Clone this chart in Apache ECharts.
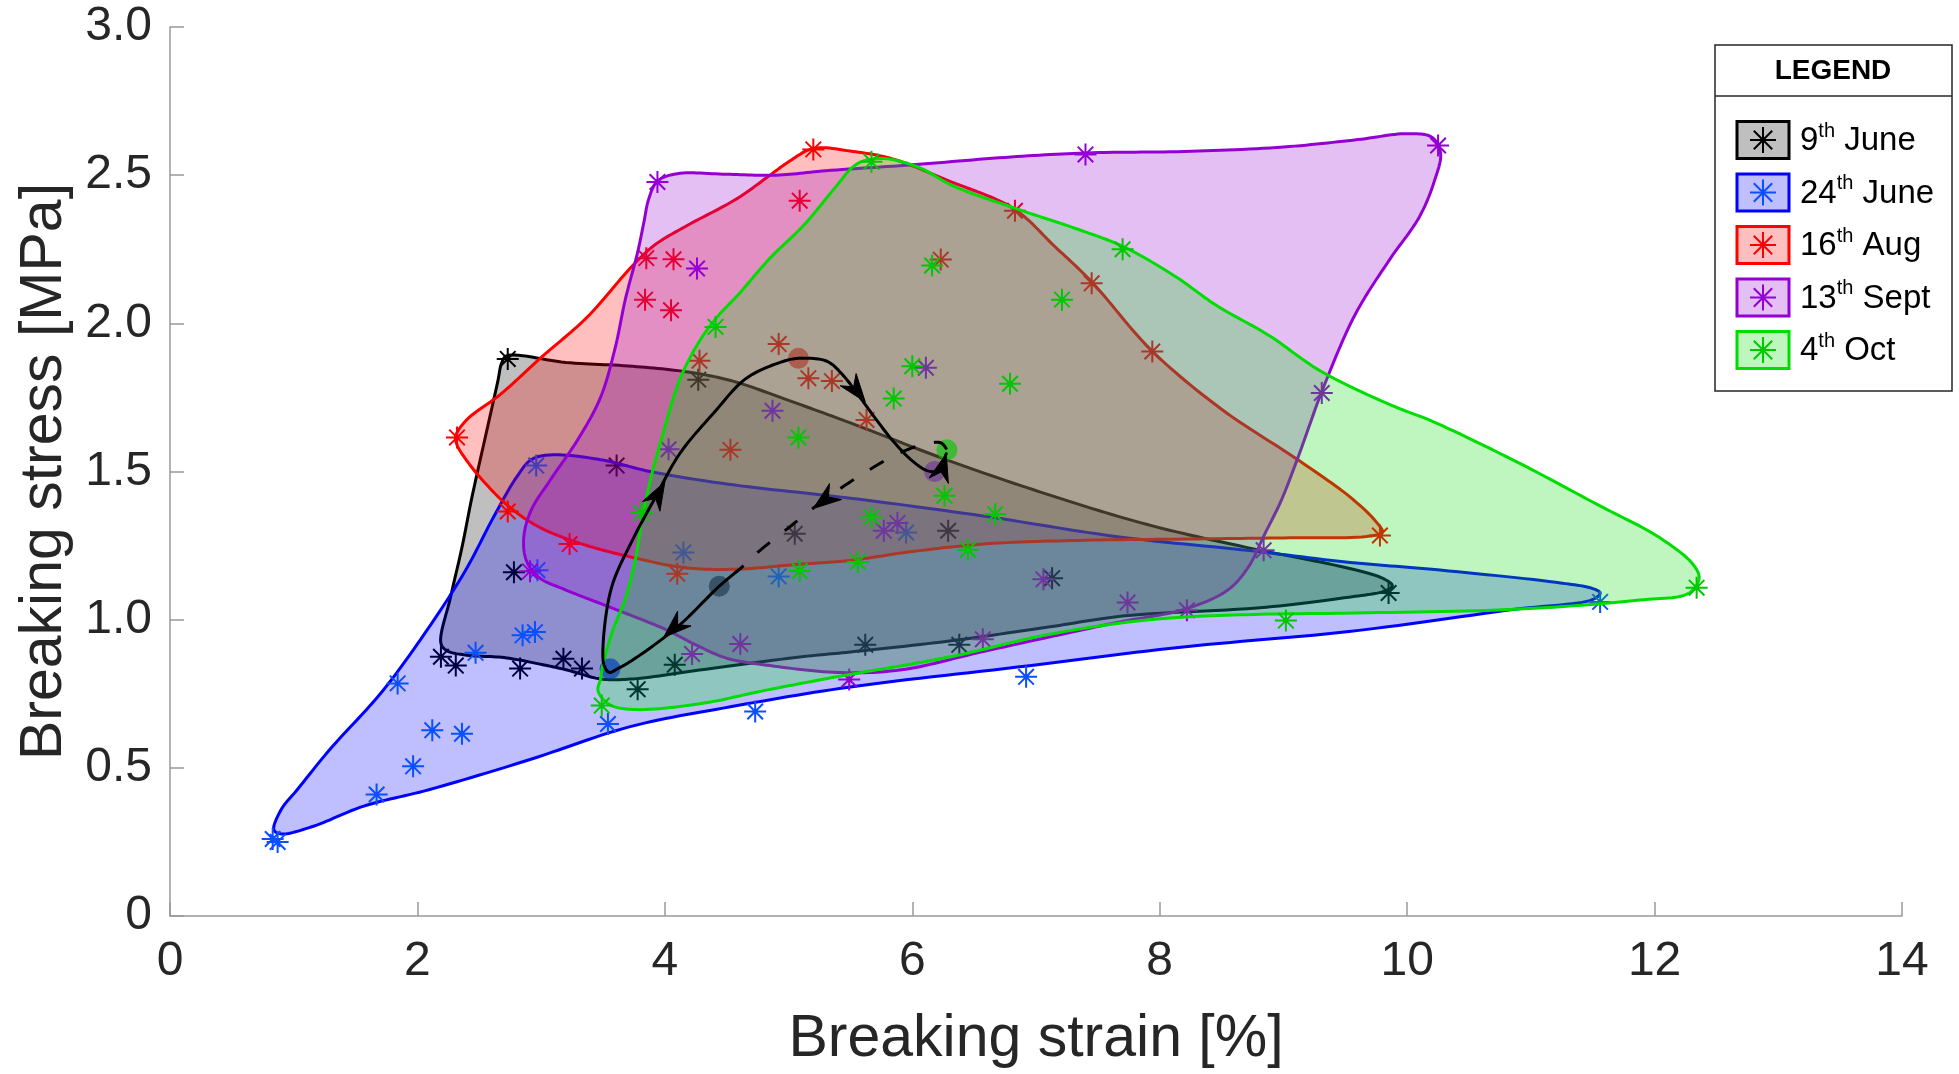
<!DOCTYPE html>
<html>
<head>
<meta charset="utf-8">
<script src="https://cdn.jsdelivr.net/npm/echarts@6/dist/echarts.min.js"></script>
<style>
  html, body { margin: 0; padding: 0; background: #ffffff; }
  #chart { width: 1959px; height: 1074px; }
</style>
</head>
<body>
<div id="chart"></div>
<script>
// Sampling dates (legend labels: day number + superscript "th" + month)
const dayNumbers = ['9', '24', '16', '13', '4'];
const monthNames = ['June', 'June', 'Aug', 'Sept', 'Oct'];

const lineColors   = ['#000000', '#0000ff', '#ff0000', '#9400d3', '#00dd00'];
const markerColors = ['#000000', '#0a50ff', '#ff0000', '#9400d3', '#00c800'];
const fillColors   = ['rgba(0,0,0,0.25)', 'rgba(0,0,255,0.25)', 'rgba(255,0,0,0.25)',
                      'rgba(148,0,211,0.25)', 'rgba(0,221,0,0.25)'];
const meanColors   = ['rgba(0,0,0,0.8)', 'rgba(0,0,255,0.8)', 'rgba(255,0,0,0.8)',
                      'rgba(148,0,211,0.8)', 'rgba(0,200,0,0.8)'];

// Individual samples: [breaking strain %, breaking stress MPa]
const june9Points = [[2.73,1.88],[4.27,1.81],[3.61,1.52],[2.78,1.16],[2.19,0.875],[2.31,0.845],
  [2.83,0.835],[3.18,0.868],[3.33,0.835],[3.78,0.765],[4.08,0.848],[5.05,1.29],[6.29,1.30],
  [7.13,1.14],[5.62,0.915],[6.38,0.915],[9.85,1.09]];
const june24Points = [[0.83,0.26],[0.87,0.25],[1.67,0.41],[1.965,0.505],[1.84,0.785],[2.12,0.627],
  [2.36,0.615],[2.47,0.888],[2.85,0.947],[2.95,0.958],[2.97,1.167],[2.96,1.52],[3.54,0.648],
  [4.15,1.227],[4.73,0.69],[4.92,1.146],[5.95,1.294],[6.92,0.807],[11.56,1.06]];
const aug16Points = [[2.32,1.615],[2.73,1.365],[3.23,1.255],[3.85,2.22],[4.07,2.216],[3.84,2.08],
  [4.05,2.044],[4.28,1.874],[4.53,1.573],[4.10,1.155],[5.2,2.587],[5.09,2.414],[4.92,1.93],
  [5.16,1.815],[5.35,1.805],[5.63,1.674],[6.23,2.215],[6.83,2.38],[7.45,2.135],[7.94,1.905],[9.78,1.284]];
const sept13Points = [[3.94,2.477],[7.40,2.57],[10.25,2.60],[4.26,2.185],[6.11,1.85],[9.31,1.765],
  [4.87,1.705],[4.03,1.575],[5.77,1.30],[5.88,1.326],[2.91,1.163],[7.06,1.136],[8.84,1.234],
  [7.74,1.058],[8.22,1.032],[6.57,0.934],[4.61,0.918],[4.22,0.884],[5.49,0.798]];
const oct4Points = [[5.67,2.545],[7.70,2.25],[7.21,2.08],[6.79,1.796],[6.16,2.195],[6.0,1.855],
  [5.85,1.746],[4.41,1.988],[5.08,1.615],[3.81,1.36],[3.49,0.71],[6.26,1.418],[5.67,1.346],
  [6.67,1.356],[5.56,1.195],[5.09,1.164],[6.45,1.236],[9.02,0.997],[12.34,1.108]];

// Mean of each sampling date
const meanPoints = [[4.44,1.113],[3.557,0.834],[5.08,1.882],[6.18,1.50],[6.28,1.573]];

// Envelope vertices of each date (closed, smoothed when drawn)
const june9Outline = [[2.72,1.89],[3.2,1.868],[3.74,1.855],[4.2,1.835],[4.55,1.805],[5.0,1.74],
  [5.5,1.664],[6.3,1.536],[7.1,1.422],[7.9,1.321],[8.7,1.244],[9.5,1.176],[9.8,1.14],[9.88,1.115],
  [9.82,1.097],[9.53,1.076],[8.86,1.042],[7.7,1.012],[7.1,0.975],[6.3,0.928],[5.5,0.891],[5.09,0.874],
  [4.28,0.83],[3.74,0.80],[3.48,0.80],[3.21,0.83],[2.99,0.85],[2.7,0.872],[2.4,0.88],[2.24,0.895],
  [2.19,0.92],[2.27,1.08],[2.36,1.244],[2.44,1.412],[2.56,1.637],[2.65,1.805],[2.68,1.865]];
const june24Outline = [[0.84,0.29],[0.9,0.36],[1.03,0.427],[1.29,0.561],[1.70,0.75],[2.0,0.918],
  [2.38,1.16],[2.62,1.35],[2.80,1.48],[2.92,1.54],[3.07,1.556],[3.48,1.54],[3.88,1.50],[4.55,1.455],
  [5.50,1.41],[6.57,1.35],[7.66,1.28],[8.73,1.233],[9.54,1.193],[10.2,1.17],[11.2,1.126],[11.5,1.105],
  [11.56,1.09],[11.5,1.068],[10.87,1.035],[9.53,0.96],[8.19,0.908],[6.85,0.84],[5.50,0.773],
  [4.53,0.706],[3.72,0.639],[2.91,0.528],[2.10,0.427],[1.56,0.37],[1.16,0.303],[0.9,0.277]];
const aug16Outline = [[2.31,1.62],[2.40,1.675],[2.67,1.76],[3.0,1.885],[3.37,2.02],[3.74,2.195],
  [3.92,2.265],[4.18,2.33],[4.58,2.42],[4.85,2.50],[5.0,2.545],[5.2,2.59],[5.52,2.58],[5.84,2.555],
  [6.3,2.48],[6.82,2.387],[7.15,2.26],[7.45,2.14],[7.93,1.91],[8.5,1.71],[9.13,1.536],[9.55,1.41],
  [9.75,1.33],[9.8,1.295],[9.7,1.282],[9.0,1.276],[8.2,1.272],[7.4,1.268],[6.6,1.256],[6.0,1.23],
  [5.5,1.20],[5.09,1.187],[4.55,1.17],[4.15,1.176],[3.74,1.21],[3.34,1.254],[2.99,1.311],[2.75,1.378],
  [2.56,1.455],[2.40,1.536],[2.32,1.59]];
const sept13Outline = [[3.94,2.48],[4.1,2.505],[4.5,2.503],[4.9,2.50],[5.3,2.515],[6.0,2.535],
  [6.75,2.56],[7.4,2.575],[8.2,2.58],[9.0,2.595],[9.6,2.62],[10.0,2.64],[10.2,2.628],[10.27,2.575],
  [10.22,2.48],[10.1,2.36],[9.85,2.21],[9.58,2.03],[9.32,1.78],[9.12,1.55],[8.98,1.40],[8.85,1.29],
  [8.72,1.18],[8.55,1.10],[8.2,1.035],[7.65,0.99],[6.6,0.895],[5.9,0.83],[5.4,0.822],[4.85,0.845],
  [4.5,0.87],[4.25,0.915],[4.0,0.968],[3.6,1.035],[3.2,1.10],[2.98,1.143],[2.88,1.20],[2.86,1.28],
  [2.92,1.37],[3.08,1.475],[3.3,1.61],[3.48,1.75],[3.6,1.92],[3.68,2.08],[3.78,2.24],[3.83,2.34],[3.87,2.42]];
const oct4Outline = [[3.48,0.80],[3.50,0.85],[3.58,0.965],[3.68,1.07],[3.76,1.20],[3.82,1.35],
  [3.90,1.50],[3.98,1.62],[4.12,1.81],[4.28,1.94],[4.42,2.02],[4.6,2.10],[4.85,2.22],[5.12,2.33],
  [5.38,2.46],[5.52,2.528],[5.62,2.55],[5.80,2.555],[6.06,2.525],[6.33,2.464],[6.84,2.387],[7.32,2.32],
  [7.7,2.26],[8.12,2.16],[8.46,2.06],[8.88,1.96],[9.3,1.839],[9.87,1.724],[10.2,1.67],[10.87,1.536],
  [11.54,1.388],[12.04,1.277],[12.31,1.187],[12.36,1.14],[12.28,1.09],[11.88,1.066],[10.87,1.035],
  [9.5,1.022],[8.7,1.017],[7.92,1.0],[7.1,0.95],[6.3,0.874],[5.4,0.808],[4.83,0.763],[4.28,0.716],
  [3.74,0.697],[3.55,0.714],[3.46,0.76]];

const pointSets = [june9Points, june24Points, aug16Points, sept13Points, oct4Points];
const outlineSets = [june9Outline, june24Outline, aug16Outline, sept13Outline, oct4Outline];

// Seasonal path between the means
const seasonPath = [[4.62,1.176],[4.44,1.113],[4.10,0.975],[3.74,0.864],[3.62,0.835],[3.55,0.822],
  [3.51,0.845],[3.50,0.91],[3.57,1.11],[3.74,1.27],[3.92,1.41],[4.12,1.56],[4.40,1.70],[4.66,1.815],
  [4.96,1.872],[5.09,1.882],[5.31,1.872],[5.44,1.825],[5.56,1.76],[5.70,1.68],[5.85,1.60],[6.0,1.536],
  [6.12,1.503],[6.21,1.503],[6.275,1.56]];
const returnPath = [[6.28,1.575],[6.23,1.597],[6.10,1.592],[5.90,1.563],[5.63,1.50],[5.29,1.405],
  [5.0,1.31],[4.75,1.227],[4.62,1.176]];
// Arrowheads: [tip, point behind the tip]
const arrowHeads = [
  [[4.0,1.465],[3.86,1.36]],
  [[5.62,1.735],[5.50,1.80]],
  [[6.275,1.56],[6.24,1.508]],
  [[5.2,1.375],[5.42,1.445]],
  [[3.99,0.94],[4.2,1.02]]
];

const FONT = '"Liberation Sans", Arial, Helvetica, sans-serif';
const ASTERISK = 'path://M0,-10L0,10M-10,0L10,0M-7.07,-7.07L7.07,7.07M-7.07,7.07L7.07,-7.07';

// Centripetal Catmull-Rom sampling in pixel space
function crPoint(p0, p1, p2, p3, u) {
  const d = (a, b) => Math.max(Math.pow(Math.hypot(b[0] - a[0], b[1] - a[1]), 0.5), 1e-4);
  const t0 = 0, t1 = t0 + d(p0, p1), t2 = t1 + d(p1, p2), t3 = t2 + d(p2, p3);
  const t = t1 + (t2 - t1) * u;
  const lerp = (a, b, ta, tb) => [
    (tb - t) / (tb - ta) * a[0] + (t - ta) / (tb - ta) * b[0],
    (tb - t) / (tb - ta) * a[1] + (t - ta) / (tb - ta) * b[1]
  ];
  const A1 = lerp(p0, p1, t0, t1), A2 = lerp(p1, p2, t1, t2), A3 = lerp(p2, p3, t2, t3);
  const B1 = lerp(A1, A2, t0, t2), B2 = lerp(A2, A3, t1, t3);
  return lerp(B1, B2, t1, t2);
}
function smoothCurve(pts, closed, steps) {
  const n = pts.length, out = [];
  const get = (k) => {
    if (closed) return pts[((k % n) + n) % n];
    if (k < 0) return [2 * pts[0][0] - pts[1][0], 2 * pts[0][1] - pts[1][1]];
    if (k >= n) return [2 * pts[n - 1][0] - pts[n - 2][0], 2 * pts[n - 1][1] - pts[n - 2][1]];
    return pts[k];
  };
  const segs = closed ? n : n - 1;
  for (let k = 0; k < segs; k++) {
    const p0 = get(k - 1), p1 = get(k), p2 = get(k + 1), p3 = get(k + 2);
    for (let s = 0; s < steps; s++) out.push(crPoint(p0, p1, p2, p3, s / steps));
  }
  if (!closed) out.push(pts[n - 1]);
  return out;
}
function arrowShape(tip, back) {
  const dx = tip[0] - back[0], dy = tip[1] - back[1];
  const len = Math.hypot(dx, dy) || 1;
  const ux = dx / len, uy = dy / len, nx = -uy, ny = ux;
  const L = 28, W = 10, notch = 19;
  const bx = tip[0] - ux * L, by = tip[1] - uy * L;
  return [tip, [bx + nx * W, by + ny * W], [tip[0] - ux * notch, tip[1] - uy * notch], [bx - nx * W, by - ny * W]];
}

const series = [];
pointSets.forEach((pts, i) => {
  const name = dayNumbers[i] + 'th ' + monthNames[i];
  series.push({
    type: 'custom', name: name + ' envelope', coordinateSystem: 'cartesian2d', silent: true,
    z: 2 + i * 3, data: [outlineSets[i][0]],
    renderItem: function (params, api) {
      const px = outlineSets[i].map(p => api.coord(p));
      return {
        type: 'polygon',
        shape: { points: smoothCurve(px, true, 14) },
        style: { fill: fillColors[i], stroke: lineColors[i], lineWidth: 3, lineJoin: 'round' }
      };
    }
  });
  series.push({
    type: 'scatter', name: name, silent: true, z: 3 + i * 3,
    data: pts, symbol: ASTERISK, symbolSize: 22,
    itemStyle: { color: 'rgba(0,0,0,0)', borderColor: markerColors[i], borderWidth: 2, opacity: 1 }
  });
  series.push({
    type: 'scatter', name: name + ' mean', silent: true, z: 4 + i * 3,
    data: [meanPoints[i]], symbol: 'circle', symbolSize: 21,
    itemStyle: { color: meanColors[i], borderWidth: 0 }
  });
});
series.push({
  type: 'custom', name: 'Seasonal path', coordinateSystem: 'cartesian2d', silent: true, z: 40,
  data: [seasonPath[0]],
  renderItem: function (params, api) {
    const solid = seasonPath.map(p => api.coord(p));
    const dashed = returnPath.map(p => api.coord(p));
    const children = [
      { type: 'polyline', shape: { points: smoothCurve(solid, false, 12) },
        style: { stroke: '#000', lineWidth: 3, fill: null, lineJoin: 'round', lineCap: 'round' } },
      { type: 'polyline', shape: { points: smoothCurve(dashed, false, 12) },
        style: { stroke: '#000', lineWidth: 3, fill: null, lineDash: [16, 19] } }
    ];
    arrowHeads.forEach(a => {
      children.push({ type: 'polygon', shape: { points: arrowShape(api.coord(a[0]), api.coord(a[1])) },
        style: { fill: '#000', stroke: '#000', lineWidth: 1 } });
    });
    return { type: 'group', children: children };
  }
});

// Legend box drawn as graphics
const legendItems = [
  { type: 'rect', shape: { x: 1715, y: 45, width: 237, height: 346 },
    style: { fill: '#fff', stroke: '#262626', lineWidth: 1.5 } },
  { type: 'line', shape: { x1: 1715, y1: 96, x2: 1952, y2: 96 },
    style: { stroke: '#262626', lineWidth: 1.5 } },
  { type: 'text', x: 1833, y: 71,
    style: { text: 'LEGEND', font: 'bold 28px ' + FONT, fill: '#000', align: 'center', verticalAlign: 'middle' } }
];
dayNumbers.forEach((d, i) => {
  const cy = 140 + i * 52.5, cx = 1763;
  legendItems.push({ type: 'rect', shape: { x: 1737, y: cy - 18.5, width: 52, height: 37 },
    style: { fill: fillColors[i], stroke: lineColors[i], lineWidth: 3 } });
  const r = 13, q = r * 0.7071;
  [[0, -r, 0, r], [-r, 0, r, 0], [-q, -q, q, q], [-q, q, q, -q]].forEach(s => {
    legendItems.push({ type: 'line', shape: { x1: cx + s[0], y1: cy + s[1], x2: cx + s[2], y2: cy + s[3] },
      style: { stroke: markerColors[i], lineWidth: 2 } });
  });
  legendItems.push({ type: 'text', x: 1800, y: cy + 1,
    style: {
      text: '{n|' + d + '}{s|th}{n| ' + monthNames[i] + '}',
      verticalAlign: 'middle', align: 'left',
      rich: {
        n: { fontSize: 33, fontFamily: FONT, fill: '#000', lineHeight: 40 },
        s: { fontSize: 20, fontFamily: FONT, fill: '#000', lineHeight: 24, verticalAlign: 'top' }
      }
    } });
});

const axisGrey = '#999999';
const option = {
  animation: false,
  backgroundColor: '#ffffff',
  grid: { left: 170, right: 57, top: 27, bottom: 154, containLabel: false },
  xAxis: {
    type: 'value', min: 0, max: 14, interval: 2,
    name: 'Breaking strain [%]', nameLocation: 'middle', nameGap: 94,
    nameTextStyle: { fontSize: 59, fontFamily: FONT, color: '#262626' },
    axisLine: { show: true, lineStyle: { color: axisGrey, width: 1.5 } },
    axisTick: { show: true, inside: true, length: 14, lineStyle: { color: axisGrey, width: 1.5 } },
    splitLine: { show: false },
    axisLabel: { fontSize: 48, fontFamily: FONT, color: '#262626', margin: 22 }
  },
  yAxis: {
    type: 'value', min: 0, max: 3, interval: 0.5,
    name: 'Breaking stress [MPa]', nameLocation: 'middle', nameGap: 96,
    nameTextStyle: { fontSize: 59, fontFamily: FONT, color: '#262626' },
    axisLine: { show: true, lineStyle: { color: axisGrey, width: 1.5 } },
    axisTick: { show: true, inside: true, length: 14, lineStyle: { color: axisGrey, width: 1.5 } },
    splitLine: { show: false },
    axisLabel: { fontSize: 48, fontFamily: FONT, color: '#262626', margin: 18,
      formatter: v => (v === 0 ? '0' : v.toFixed(1)) }
  },
  graphic: [{ type: 'group', z: 100, children: legendItems }],
  series: series
};

const chart = echarts.init(document.getElementById('chart'), null, { renderer: 'canvas' });
chart.setOption(option);
</script>
</body>
</html>
